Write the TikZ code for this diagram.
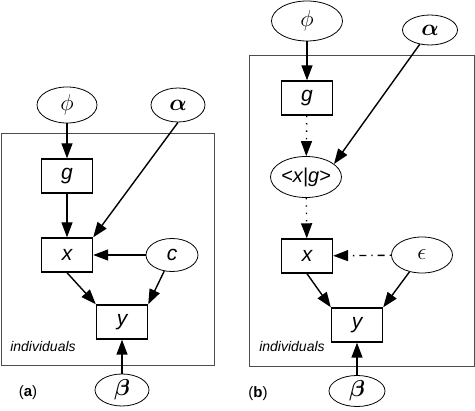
\RequirePackage{fix-cm}
\documentclass[tikz,border=0pt]{standalone}
\usepackage{fontspec}
\setmainfont{Liberation Sans}
\usepackage{bm}
\usetikzlibrary{shapes.geometric,arrows.meta}

\begin{document}
\begin{tikzpicture}[x=1pt,y=-1pt,
    unit/.style={draw,line width=1.4pt,minimum width=51pt,minimum height=34pt,
      inner sep=0pt,font=\fontsize{21}{21}\selectfont\itshape},
    param/.style={draw,ellipse,line width=0.8pt,inner sep=0pt,
      font=\fontsize{23}{23}\selectfont},
    edge/.style={line width=1.4pt,-{Triangle[length=15pt,width=11pt]}},
    dotedge/.style={edge,dash pattern=on 1.4pt off 6pt},
    dashdotedge/.style={edge,dash pattern=on 1.4pt off 5pt on 7pt off 5pt},
    plate/.style={draw=black!70,line width=1pt},
    platelabel/.style={font=\fontsize{14}{14}\selectfont\itshape},
    panellabel/.style={font=\fontsize{15}{15}\selectfont}]
  \useasboundingbox (0,0) rectangle (475,411);

  % (a)
  \draw[plate] (1,134) rectangle (214,366);
  \node[param,minimum width=60pt,minimum height=36pt] (phiA) at (67,105) {$\phi$};
  \node[param,minimum width=54pt,minimum height=34pt] (alphaA) at (178,105) {$\bm{\alpha}$};
  \node[unit] (gA) at (67,176) {g};
  \node[unit] (xA) at (67,255) {x};
  \node[param,minimum width=52pt,minimum height=33pt,font=\fontsize{21}{21}\selectfont\itshape] (cA) at (172,255) {c};
  \node[unit] (yA) at (122,322) {y};
  \node[param,minimum width=54pt,minimum height=32pt] (betaA) at (122,390) {$\bm{\beta}$};
  \node[platelabel] (indA) at (43,347) {individuals};
  \node[panellabel] (labA) at (28,393) {(\textbf{a})};

  \draw[edge] (phiA) -- (gA);
  \draw[edge] (gA) -- (xA);
  \draw[edge] (alphaA.south) -- (xA.north east);
  \draw[edge] (cA) -- (xA);
  \draw[edge] (xA.south) -- (yA.north west);
  \draw[edge] (cA) -- (yA.north east);
  \draw[edge] (betaA) -- (yA);

  % (b)
  \draw[plate] (249,56) rectangle (474,367);
  \node[param,minimum width=71pt,minimum height=40pt] (phiB) at (307,21) {$\phi$};
  \node[param,minimum width=55pt,minimum height=30pt] (alphaB) at (430,30) {$\bm{\alpha}$};
  \node[unit] (gB) at (307,98) {g};
  \node[param,minimum width=71pt,minimum height=41pt,font=\fontsize{20}{20}\selectfont\itshape] (xgB) at (306,177) {<x|g>};
  \node[unit] (xB) at (307,256) {x};
  \node[param,minimum width=61pt,minimum height=36pt] (epsB) at (422,255) {$\epsilon$};
  \node[unit] (yB) at (357,325) {y};
  \node[param,minimum width=56pt,minimum height=31pt] (betaB) at (357,391) {$\bm{\beta}$};
  \node[platelabel] (indB) at (292,347) {individuals};
  \node[panellabel] (labB) at (258,394) {(\textbf{b})};

  \draw[edge] (phiB) -- (gB);
  \draw[dotedge] (gB) -- (xgB);
  \draw[edge] (alphaB) -- (xgB.25);
  \draw[dotedge] (xgB) -- (xB);
  \draw[dashdotedge] (epsB) -- (xB);
  \draw[edge] (xB.south) -- (yB.north west);
  \draw[edge] (epsB) -- (yB.north east);
  \draw[edge] (betaB) -- (yB);
\end{tikzpicture}
\end{document}
